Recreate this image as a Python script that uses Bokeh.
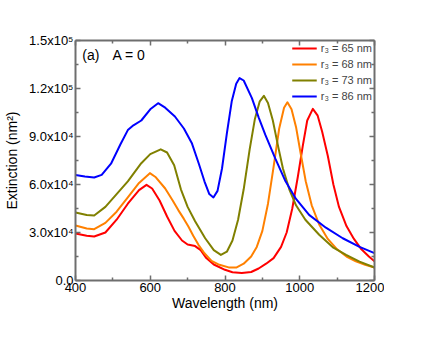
from bokeh.plotting import figure
from bokeh.models import (LinearAxis, FixedTicker, Range1d, Legend, LegendItem, Label)
from bokeh.embed import file_html
from bokeh.resources import INLINE

# ---- data ----
wl_65 = [400, 430, 450, 480, 510, 540, 570, 590, 605, 625, 645, 665, 685, 700, 720, 735, 750, 770, 800, 820, 845, 870, 890, 910, 930, 950, 965, 980, 995, 1008, 1020, 1035, 1048, 1060, 1075, 1090, 1105, 1125, 1145, 1165, 1185, 1200]
ext_65 = [29400, 28000, 27500, 30000, 38000, 48000, 56500, 59800, 57500, 50000, 40000, 31000, 25000, 22500, 21500, 19000, 14000, 10000, 6700, 5200, 4700, 5300, 7500, 10500, 14000, 21000, 30000, 45000, 65000, 84000, 100000, 107300, 103000, 93000, 78000, 60000, 46000, 34000, 26000, 19500, 15000, 12000]

wl_68 = [400, 430, 450, 480, 510, 540, 570, 599, 615, 640, 660, 675, 690, 702, 715, 729, 745, 764, 785, 810, 830, 850, 870, 885, 900, 915, 930, 945, 958, 967, 978, 990, 1002, 1016, 1032, 1052, 1075, 1100, 1125, 1150, 1175, 1200]
ext_68 = [34400, 32500, 32100, 36000, 43000, 52000, 61000, 67100, 64500, 57500, 50000, 44000, 38500, 33700, 28000, 22300, 17000, 12300, 9800, 8200, 8100, 10500, 15000, 21000, 31000, 48000, 71000, 95000, 108000, 111400, 107000, 96000, 80000, 62000, 47000, 35000, 26000, 19500, 15000, 12000, 9800, 8100]

wl_73 = [400, 430, 450, 480, 510, 540, 576, 600, 628, 645, 664, 682, 700, 720, 747, 770, 789, 805, 820, 835, 850, 866, 880, 893, 904, 915, 928, 942, 955, 972, 990, 1015, 1052, 1090, 1124, 1160, 1200]
ext_73 = [42500, 41000, 40600, 46000, 54000, 62000, 73300, 79000, 82000, 80000, 72000, 57000, 46000, 37000, 26400, 19000, 16000, 18000, 25000, 38000, 57000, 82000, 101000, 112000, 115400, 111000, 100000, 84000, 70000, 57000, 47000, 38000, 28600, 20500, 16000, 11800, 8100]

wl_86 = [400, 425, 450, 470, 495, 520, 540, 555, 576, 600, 621, 640, 666, 690, 711, 730, 745, 758, 769, 780, 792, 805, 818, 830, 839, 850, 872, 890, 908, 935, 962, 990, 1025, 1070, 1115, 1160, 1200]
ext_86 = [66000, 65000, 64400, 66000, 73000, 85000, 94000, 97000, 100000, 107000, 110800, 108000, 102500, 95000, 86000, 73000, 62000, 54000, 51900, 56000, 70000, 92000, 112000, 123000, 126500, 125000, 114000, 102000, 91000, 76000, 62000, 51000, 41000, 33000, 26400, 21000, 17100]

series_labels = ["r\u2083 = 65 nm", "r\u2083 = 68 nm", "r\u2083 = 73 nm", "r\u2083 = 86 nm"]
series_colors = ["#ff0000", "#ff8000", "#808000", "#0000ff"]

x_ticks = [400, 600, 800, 1000, 1200]
x_minor = [500, 700, 900, 1100]
y_ticks = [0, 30000, 60000, 90000, 120000, 150000]
y_tick_labels = ["0.0", "3.0x10\u2074", "6.0x10\u2074", "9.0x10\u2074", "1.2x10\u2075", "1.5x10\u2075"]
y_minor = [15000, 45000, 75000, 105000, 135000]

FONT = "Liberation Sans"
AX = "#6e6e6e"

p = figure(width=420, height=321, frame_width=299, frame_height=240,
           output_backend="svg", toolbar_location=None,
           x_range=Range1d(400, 1200), y_range=Range1d(0, 150000),
           x_axis_location=None, y_axis_location=None,
           min_border_left=70, min_border_right=10, min_border_top=40, min_border_bottom=10)
p.grid.visible = False
p.outline_line_color = None
p.background_fill_color = "white"
p.border_fill_color = "white"

def style_axis(ax, labels=True):
    ax.axis_line_color = AX
    ax.axis_line_width = 2
    ax.major_tick_line_color = AX
    ax.minor_tick_line_color = AX
    ax.major_tick_line_width = 1.5
    ax.minor_tick_line_width = 1.5
    ax.major_tick_in = 5
    ax.major_tick_out = 0
    ax.minor_tick_in = 3
    ax.minor_tick_out = 0
    ax.major_label_text_font = FONT
    ax.major_label_text_font_size = "13px"
    ax.major_label_text_color = "black"
    ax.axis_label_text_font = FONT
    ax.axis_label_text_font_size = "14px"
    ax.axis_label_text_font_style = "normal"
    ax.axis_label_text_color = "black"
    if not labels:
        ax.major_label_standoff = 0

xb = LinearAxis(ticker=FixedTicker(ticks=x_ticks, minor_ticks=x_minor), axis_label="Wavelength (nm)")
style_axis(xb)
xb.major_label_standoff = 2
xb.axis_label_standoff = 0
p.add_layout(xb, "below")

xt = LinearAxis(ticker=FixedTicker(ticks=x_ticks, minor_ticks=x_minor))
style_axis(xt, labels=False)
xt.major_label_overrides = {t: "" for t in x_ticks}
p.add_layout(xt, "above")

yl = LinearAxis(ticker=FixedTicker(ticks=y_ticks, minor_ticks=y_minor), axis_label="Extinction (nm\u00b2)")
style_axis(yl)
yl.major_label_overrides = {t: s for t, s in zip(y_ticks, y_tick_labels)}
yl.major_label_standoff = 2
yl.axis_label_standoff = 6
p.add_layout(yl, "left")

yr = LinearAxis(ticker=FixedTicker(ticks=y_ticks, minor_ticks=y_minor))
style_axis(yr, labels=False)
yr.major_label_overrides = {t: "" for t in y_ticks}
p.add_layout(yr, "right")

xs = [wl_65, wl_68, wl_73, wl_86]
ys = [ext_65, ext_68, ext_73, ext_86]
items = []
for x, y, c, lab in zip(xs, ys, series_colors, series_labels):
    r = p.line(x, y, line_color=c, line_width=2, line_join="round")
    items.append(LegendItem(label=lab, renderers=[r]))

leg = Legend(items=items, location="top_right")
leg.border_line_color = None
leg.background_fill_alpha = 0
leg.label_text_font = FONT
leg.label_text_font_size = "11px"
leg.glyph_width = 25
leg.glyph_height = 10
leg.spacing = 4
leg.padding = 2
leg.margin = 2
leg.label_standoff = 4
leg.label_height = 10
p.add_layout(leg)

p.add_layout(Label(x=418, y=150000, y_offset=-22, text="(a)",
                   text_font=FONT, text_font_size="14px", text_color="black"))
p.add_layout(Label(x=499, y=150000, y_offset=-22, text="A = 0",
                   text_font=FONT, text_font_size="14px", text_color="black"))

open("out.html", "w").write(file_html(p, INLINE))
